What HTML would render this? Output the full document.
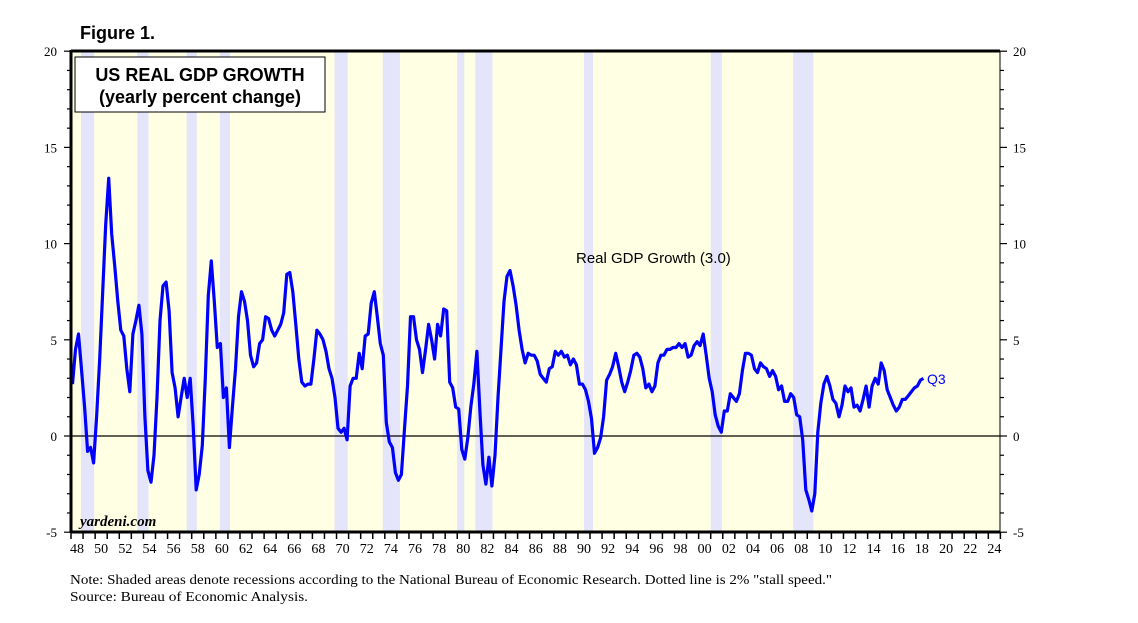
<!DOCTYPE html>
<html><head><meta charset="utf-8"><style>
body{margin:0;background:#fff;width:1138px;height:623px;overflow:hidden}
svg{display:block}
text{font-family:"Liberation Sans",sans-serif}
</style></head><body>
<svg id="c" width="1138" height="623">
<text x="80" y="39" font-size="18" font-weight="bold">Figure 1.</text>
<rect x="71" y="51" width="929" height="481" fill="#ffffe3"/>
<g id="rec"></g>
<line x1="71" x2="1000" y1="436" y2="436" stroke="#000" stroke-width="1.2"/>
<g id="ticks"></g>
<polyline id="line" fill="none" stroke="#0000ff" stroke-width="3.2" stroke-linejoin="round"/>
<rect x="71" y="51" width="929" height="481" fill="none" stroke="#000" stroke-width="1"/>
<line x1="71" x2="1000" y1="51" y2="51" stroke="#000" stroke-width="3"/>
<line x1="71" x2="1000" y1="532" y2="532" stroke="#000" stroke-width="3"/>
<line x1="71" x2="71" y1="50" y2="533" stroke="#000" stroke-width="3"/>
<g>
<rect x="75" y="57" width="250" height="55" fill="#fff" stroke="#000" stroke-width="1"/>
<text x="200" y="81" font-size="18" font-weight="bold" text-anchor="middle">US REAL GDP GROWTH</text>
<text x="200" y="103" font-size="18" font-weight="bold" text-anchor="middle">(yearly percent change)</text>
</g>
<text x="576" y="263" font-size="15">Real GDP Growth (3.0)</text>
<text x="927" y="384" font-size="14" fill="#0000ff">Q3</text>
<text x="80" y="526" font-size="15" font-weight="bold" font-style="italic" style="font-family:'Liberation Serif',serif">yardeni.com</text>
<text x="70" y="584" font-size="14" textLength="762" lengthAdjust="spacingAndGlyphs" style="font-family:'Liberation Serif',serif">Note: Shaded areas denote recessions according to the National Bureau of Economic Research. Dotted line is 2% "stall speed."</text>
<text x="70" y="601" font-size="14" textLength="238" lengthAdjust="spacingAndGlyphs" style="font-family:'Liberation Serif',serif">Source: Bureau of Economic Analysis.</text>
</svg>
<script>
const recStart=[1948.83,1953.5,1957.58,1960.33,1969.83,1973.83,1980.0,1981.5,1990.5,2001.0,2007.83];
const recEnd=[1949.92,1954.42,1958.42,1961.17,1970.92,1975.25,1980.58,1982.92,1991.25,2001.92,2009.5];
const yTicks=[-5,0,5,10,15,20];
const startYear=1948;
const gdp=[
2.7,4.5,5.3,3.4, 1.5,-0.8,-0.6,-1.4, 1.0,4.0,7.5,11.0, 13.4,10.5,8.8,7.0,
5.5,5.2,3.5,2.3, 5.3,6.0,6.8,5.3, 1.0,-1.8,-2.4,-1.0, 2.0,6.0,7.8,8.0,
6.5,3.3,2.5,1.0, 2.0,3.0,2.0,3.0, 0.5,-2.8,-2.0,-0.5, 3.0,7.3,9.1,7.0,
4.6,4.8,2.0,2.5, -0.6,1.5,3.5,6.2, 7.5,7.0,6.0,4.2, 3.6,3.8,4.8,5.0,
6.2,6.1,5.5,5.2, 5.5,5.8,6.4,8.4, 8.5,7.5,5.8,4.0, 2.8,2.6,2.7,2.7,
4.0,5.5,5.3,5.0, 4.4,3.5,3.0,2.0, 0.4,0.2,0.4,-0.2, 2.6,3.0,3.0,4.3,
3.5,5.2,5.3,6.9, 7.5,6.2,4.8,4.2, 0.7,-0.3,-0.6,-1.9, -2.3,-2.0,0.3,2.6,
6.2,6.2,5.0,4.5, 3.3,4.5,5.8,5.0, 4.0,5.8,5.2,6.6, 6.5,2.8,2.5,1.5,
1.4,-0.7,-1.2,-0.1, 1.5,2.7,4.4,1.3, -1.5,-2.5,-1.1,-2.6, -1.0,2.0,4.5,7.0,
8.3,8.6,7.8,6.8, 5.5,4.5,3.8,4.3, 4.2,4.2,3.9,3.2, 3.0,2.8,3.5,3.6,
4.4,4.2,4.4,4.1, 4.2,3.7,4.0,3.7, 2.7,2.7,2.4,1.8, 0.9,-0.9,-0.6,-0.1,
1.0,2.9,3.2,3.6, 4.3,3.6,2.8,2.3, 2.8,3.4,4.2,4.3, 4.1,3.5,2.5,2.7,
2.3,2.6,3.8,4.2, 4.2,4.5,4.5,4.6, 4.6,4.8,4.6,4.8, 4.1,4.2,4.7,4.9,
4.7,5.3,4.2,3.0, 2.3,1.1,0.5,0.2, 1.3,1.3,2.2,2.0, 1.8,2.2,3.4,4.3,
4.3,4.2,3.5,3.3, 3.8,3.6,3.5,3.1, 3.4,3.1,2.4,2.6, 1.8,1.8,2.2,2.0,
1.1,1.0,-0.2,-2.8, -3.3,-3.9,-3.0,0.2, 1.7,2.7,3.1,2.6, 1.9,1.7,1.0,1.6,
2.6,2.3,2.5,1.5, 1.6,1.3,1.9,2.6, 1.5,2.6,3.0,2.7, 3.8,3.4,2.4,2.0,
1.6,1.3,1.5,1.9, 1.9,2.1,2.3,2.5, 2.6,2.9,3.0];
const xLabels=[48,50,52,54,56,58,60,62,64,66,68,70,72,74,76,78,80,82,84,86,88,90,92,94,96,98,"00","02","04","06","08",10,12,14,16,18,20,22,24];

const X0=71,XW=12.07,Y0=436,YS=19.24;
const xs=t=>X0+(t-startYear)*XW;
const ys=v=>Y0-v*YS;
const NS="http://www.w3.org/2000/svg";
function mk(tag,attrs,parent){const e=document.createElementNS(NS,tag);for(const k in attrs)e.setAttribute(k,attrs[k]);parent.appendChild(e);return e;}
const rec=document.getElementById('rec');
recStart.forEach((s,i)=>{
 const r=mk('rect',{x:xs(s),y:51,width:xs(recEnd[i])-xs(s),height:481,fill:'#e4e4fa'},rec);
 
 
});
const tk=document.getElementById('ticks');
for(let v=-5;v<=20;v++){
 const L=v%5===0?7:4;
 mk('line',{x1:71-L,x2:71,y1:ys(v),y2:ys(v),stroke:'#000','stroke-width':1.2},tk);
 mk('line',{x1:1000,x2:1000+L,y1:ys(v),y2:ys(v),stroke:'#000','stroke-width':1.2},tk);
}
yTicks.forEach(v=>{
 const a=mk('text',{x:57,y:ys(v)+5,'font-size':13,'text-anchor':'end',style:"font-family:'Liberation Serif',serif"},tk);a.textContent=v;
 
 
 const b=mk('text',{x:1013,y:ys(v)+5,'font-size':13,style:"font-family:'Liberation Serif',serif"},tk);b.textContent=v;
 
 
});
for(let y=1948;y<=2025;y++){
 mk('line',{x1:xs(y),x2:xs(y),y1:532,y2:539,stroke:'#000','stroke-width':1.5},tk);
}
xLabels.forEach((l,i)=>{
 const t=mk('text',{x:xs(1948+2*i+0.5),y:553,'font-size':14,'text-anchor':'middle',style:"font-family:'Liberation Serif',serif"},tk);t.textContent=l;
 
 
});
document.getElementById('line').setAttribute('points',gdp.map((v,i)=>xs(startYear+(i+0.5)/4).toFixed(1)+','+ys(v).toFixed(1)).join(' '));
</script>
</body></html>
